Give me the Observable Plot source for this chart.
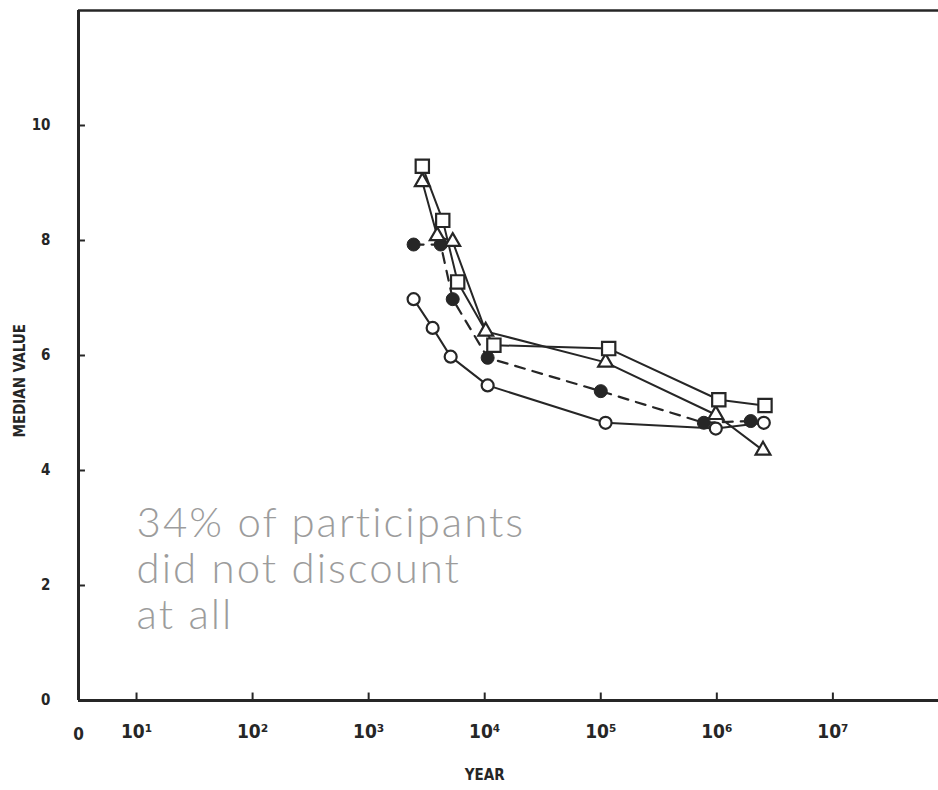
<!DOCTYPE html>
<html>
<head>
<meta charset="utf-8">
<script src="https://cdn.jsdelivr.net/npm/d3@7"></script>
<script src="https://cdn.jsdelivr.net/npm/@observablehq/plot@0.6"></script>
<style>
  html, body { margin: 0; padding: 0; background: #fff; }
  #chart svg { display: block; }
  #chart svg text { font-stretch: condensed; }
</style>
</head>
<body>
<div id="chart"></div>
<script>
// Open squares, solid line
const squareX = [2900, 4350, 5850, 12000, 117000, 1040000, 2600000];
const squareY = [9.29, 8.35, 7.28, 6.18, 6.12, 5.23, 5.13];
// Open triangles, solid line
const triangleX = [2900, 3900, 5300, 10200, 110000, 980000, 2500000];
const triangleY = [9.02, 8.08, 7.98, 6.42, 5.88, 4.97, 4.35];
// Filled circles, dashed line
const filledX = [2440, 4180, 5300, 10600, 100000, 773000, 1960000];
const filledY = [7.93, 7.93, 6.98, 5.96, 5.38, 4.83, 4.86];
// Open circles, solid line
const openX = [2440, 3560, 5090, 10600, 110000, 980000, 2540000];
const openY = [6.98, 6.48, 5.98, 5.48, 4.83, 4.73, 4.83];

const xTicks = [10, 100, 1000, 1e4, 1e5, 1e6, 1e7];
const xTickLabels = ["10¹", "10²", "10³", "10⁴", "10⁵", "10⁶", "10⁷"];
const yTicks = [0, 2, 4, 6, 8, 10];
const xTitle = "YEAR";
const yTitle = "MEDIAN VALUE";
const note = "34% of participants\ndid not discount\nat all";

const xMin = Math.pow(10, 0.5);
const xMax = Math.pow(10, 7.91);

const toRows = (xs, ys) => xs.map((x, i) => ({x, y: ys[i]}));
const squares = toRows(squareX, squareY);
const triangles = toRows(triangleX, triangleY);
const filled = toRows(filledX, filledY);
const opens = toRows(openX, openY);
const xLabelOf = new Map(xTicks.map((t, i) => [t, xTickLabels[i]]));

const ink = "#262626";
const font = "'DejaVu Sans', sans-serif";

const chart = Plot.plot({
  width: 938,
  height: 790,
  marginLeft: 78,
  marginRight: 0,
  marginTop: 10,
  marginBottom: 90,
  style: {fontFamily: font, fontWeight: "bold", fontSize: "16px", color: ink, background: "#fff"},
  x: {type: "log", domain: [xMin, xMax]},
  y: {domain: [0, 12]},
  marks: [
    // frame
    Plot.ruleX([xMin], {stroke: ink, strokeWidth: 3}),
    Plot.ruleY([0], {stroke: ink, strokeWidth: 3}),
    Plot.ruleY([12], {stroke: ink, strokeWidth: 2.5}),
    // inward tick marks
    Plot.ruleX(xTicks, {y1: 0, y2: 0.13, stroke: ink, strokeWidth: 2}),
    Plot.ruleY(yTicks.slice(1), {x1: xMin, x2: Math.pow(10, 0.56), stroke: ink, strokeWidth: 2}),
    // axes
    Plot.axisX(xTicks, {tickSize: 0, tickPadding: 24, fontSize: 19, tickFormat: d => xLabelOf.get(d), label: null}),
    Plot.text(["0"], {x: xMin, y: 0, dy: 34, fontSize: 17, fontWeight: "bold"}),
    Plot.axisY(yTicks, {tickSize: 0, tickPadding: 28, fontSize: 15, tickFormat: d => String(d), label: null}),
    Plot.text([xTitle], {x: 1e4, y: 0, dy: 75, fontSize: 15, fontWeight: "bold"}),
    Plot.text([yTitle], {x: xMin, y: 5.56, dx: -58, rotate: -90, fontSize: 15, fontWeight: "bold"}),
    // lines
    Plot.line(opens, {x: "x", y: "y", stroke: ink, strokeWidth: 2}),
    Plot.line(filled, {x: "x", y: "y", stroke: ink, strokeWidth: 2.2, strokeDasharray: "10,8"}),
    Plot.line(triangles, {x: "x", y: "y", stroke: ink, strokeWidth: 2}),
    Plot.line(squares, {x: "x", y: "y", stroke: ink, strokeWidth: 2}),
    // markers
    Plot.dot(opens, {x: "x", y: "y", symbol: "circle", r: 6, fill: "#fff", stroke: ink, strokeWidth: 2.2}),
    Plot.dot(filled, {x: "x", y: "y", symbol: "circle", r: 6.5, fill: ink, stroke: ink, strokeWidth: 1}),
    Plot.dot(triangles, {x: "x", y: "y", symbol: "triangle", r: 5.5, fill: "#fff", stroke: ink, strokeWidth: 2.2}),
    Plot.dot(squares, {x: "x", y: "y", symbol: "square", r: 7.5, fill: "#fff", stroke: ink, strokeWidth: 2.2}),
    // handwritten note
    Plot.text([note], {x: 10, y: 2.3, text: d => d, textAnchor: "start", fontSize: 42, lineHeight: 1.1,
      fill: "#9c9c9c", fontWeight: 300, fontFamily: "Lato, 'Open Sans', sans-serif"})
  ]
});

d3.select(chart).selectAll("text")
  .filter(function() { return d3.select(this.closest("[fill]")).attr("fill") === "#9c9c9c"; })
  .style("letter-spacing", "2px").style("font-stretch", "normal");

document.getElementById("chart").appendChild(chart);
</script>
</body>
</html>
